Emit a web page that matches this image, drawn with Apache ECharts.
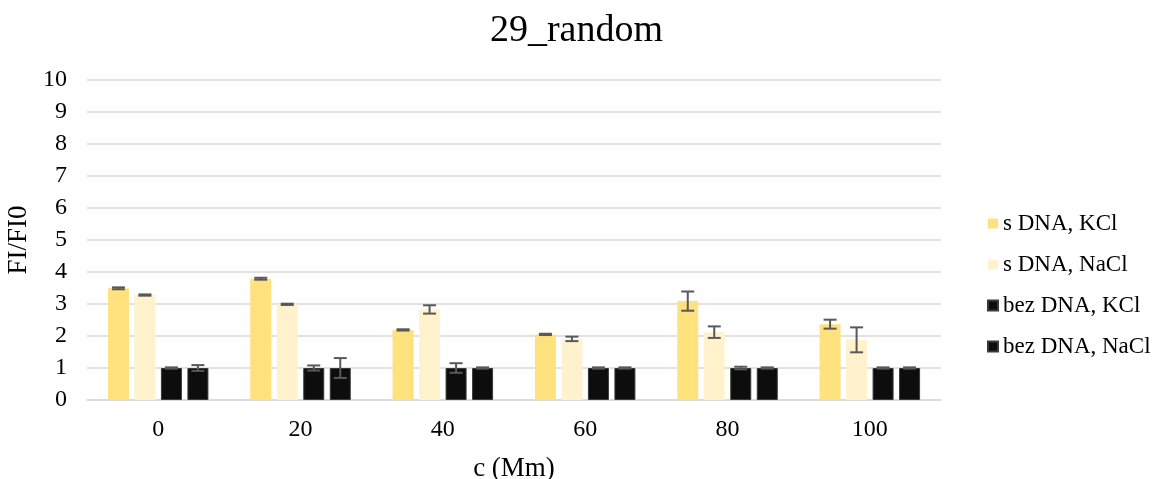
<!DOCTYPE html>
<html><head><meta charset="utf-8">
<script src="https://cdn.jsdelivr.net/npm/echarts@6/dist/echarts.min.js"></script>
<style>html,body{margin:0;padding:0;background:#fff}#c{width:1153px;height:479px}</style>
</head><body><div id="c"></div>
<script>
const categories = ['0','20','40','60','80','100'];
const seriesNames = ['s DNA, KCl','s DNA, NaCl','bez DNA, KCl','bez DNA, NaCl'];
const sDnaKCl   = [3.49, 3.79, 2.19, 2.05, 3.09, 2.37];
const sDnaNaCl  = [3.28, 2.99, 2.83, 1.91, 2.12, 1.88];
const bezDnaKCl = [1.0, 1.0, 1.0, 1.0, 1.0, 1.0];
const bezDnaNaCl= [1.0, 1.0, 1.0, 1.0, 1.0, 1.0];
const errSDnaKCl   = [0.03, 0.03, 0.02, 0.02, 0.30, 0.14];
const errSDnaNaCl  = [0.02, 0.02, 0.13, 0.07, 0.18, 0.39];
const errBezDnaKCl = [0.02, 0.08, 0.15, 0.02, 0.04, 0.02];
const errBezDnaNaCl= [0.09, 0.31, 0.02, 0.02, 0.02, 0.02];
const yTicks = [0,1,2,3,4,5,6,7,8,9,10];

const values = [sDnaKCl, sDnaNaCl, bezDnaKCl, bezDnaNaCl];
const errors = [errSDnaKCl, errSDnaNaCl, errBezDnaKCl, errBezDnaNaCl];
const colors = ['#FFE17D', '#FFF2CC', '#0D0D0D', '#0D0D0D'];
const BAR_W = 21, GAP = 5.5;
const font = '"Liberation Serif", "Times New Roman", serif';

const chart = echarts.init(document.getElementById('c'), null, {renderer:'canvas'});
const series = [];
values.forEach((vals, i) => {
  series.push({
    name: seriesNames[i], type: 'bar', data: vals, barWidth: BAR_W, barGap: (GAP/BAR_W*100)+'%',
    itemStyle: { color: colors[i], borderColor: i >= 2 ? '#3a3a3a' : colors[i], borderWidth: i >= 2 ? 1 : 0 },
    emphasis: { disabled: true }
  });
});
values.forEach((vals, i) => {
  series.push({
    type: 'custom', name: 'err' + i, z: 10,
    data: vals.map((v, k) => [k, v - errors[i][k], v + errors[i][k]]),
    renderItem: function (params, api) {
      const k = api.value(0);
      const lo = api.coord([k, api.value(1)]);
      const hi = api.coord([k, api.value(2)]);
      const x = lo[0] + (i - 1.5) * (BAR_W + GAP);
      const cw = 6.5;
      const style = { stroke: '#595959', lineWidth: 2 };
      return { type: 'group', children: [
        { type: 'line', shape: { x1: x, y1: lo[1], x2: x, y2: hi[1] }, style },
        { type: 'line', shape: { x1: x - cw, y1: lo[1], x2: x + cw, y2: lo[1] }, style },
        { type: 'line', shape: { x1: x - cw, y1: hi[1], x2: x + cw, y2: hi[1] }, style }
      ]};
    }
  });
});

chart.setOption({
  animation: false,
  backgroundColor: '#fff',
  title: { text: '29_random', left: 'center', top: 7,
    textStyle: { fontFamily: font, fontSize: 38, fontWeight: 'normal', color: '#000' } },
  legend: {
    data: seriesNames, orient: 'vertical', left: 982, top: 207,
    icon: 'rect', itemWidth: 10, itemHeight: 10, itemGap: 18,
    textStyle: { fontFamily: font, fontSize: 23, color: '#000', lineHeight: 23 }
  },
  grid: { left: 87, right: 212, top: 80, bottom: 79, containLabel: false, outerBoundsMode: 'none' },
  xAxis: {
    type: 'category', data: categories,
    name: 'c (Mm)', nameLocation: 'middle', nameGap: 55,
    nameTextStyle: { fontFamily: font, fontSize: 27, color: '#000' },
    axisLine: { lineStyle: { color: '#d9d9d9', width: 1.5 } },
    axisTick: { show: false },
    axisLabel: { fontFamily: font, fontSize: 24, color: '#000', margin: 18 }
  },
  yAxis: {
    type: 'value', min: 0, max: 10, interval: 1,
    name: 'FI/FI0', nameLocation: 'middle', nameGap: 53, nameRotate: 90,
    nameTextStyle: { fontFamily: font, fontSize: 27, color: '#000' },
    axisLine: { show: false }, axisTick: { show: false },
    axisLabel: { fontFamily: font, fontSize: 24, color: '#000', margin: 20,
      formatter: v => yTicks.includes(v) ? String(v) : '' },
    splitLine: { lineStyle: { color: '#d9d9d9', width: 1.5 } }
  },
  series
});
</script></body></html>
